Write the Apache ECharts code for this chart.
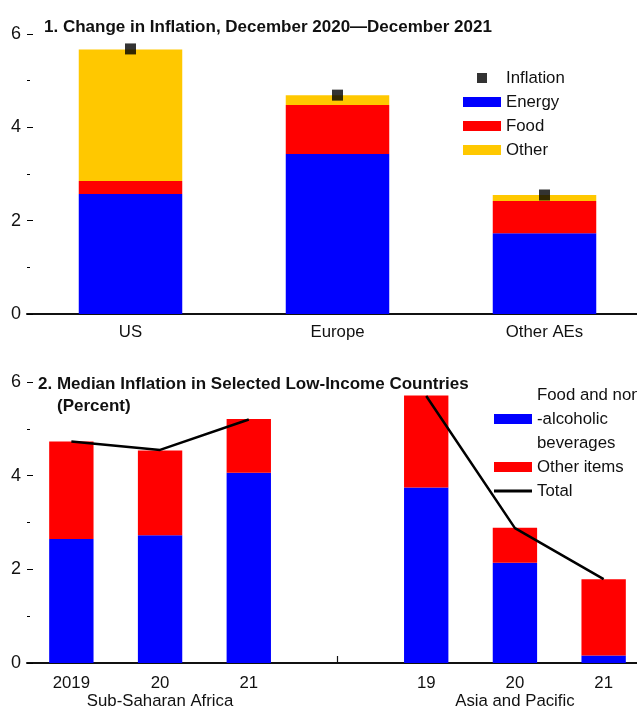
<!DOCTYPE html>
<html><head><meta charset="utf-8">
<script src="https://cdn.jsdelivr.net/npm/echarts@6/dist/echarts.min.js"></script>
<style>html,body{margin:0;padding:0;background:#fff}#c{width:637px;height:706px}</style>
</head><body><div id="c"></div>
<script>
// Panel 1 data
const cats1 = ['US', 'Europe', 'Other AEs'];
const energy = [2.57, 3.43, 1.73];
const food = [0.28, 1.05, 0.69];
const other = [2.82, 0.21, 0.13];
const inflation = [5.68, 4.69, 2.55];
// Panel 2 data
const cats2 = ['2019', '20', '21', '', '19', '20', '21'];
const regionLabels = ['', 'Sub-Saharan Africa', '', '', '', 'Asia and Pacific', ''];
const foodBev = [2.65, 2.73, 4.06, '-', 3.75, 2.14, 0.16];
const otherItems = [2.08, 1.81, 1.15, '-', 1.96, 0.75, 1.63];
const total = [4.73, 4.55, 5.20, '-', 5.70, 2.88, 1.79];
const yTicks = [0, 2, 4, 6];

const FONT = "'Liberation Sans Narrow', 'Arial Narrow', 'Liberation Sans', Arial, sans-serif";
const FS = 16.8;
const chart = echarts.init(document.getElementById('c'), null, {renderer: 'canvas'});

function yAxis(gi) {
  return {
    type: 'value', gridIndex: gi, min: yTicks[0], max: yTicks[yTicks.length - 1], interval: 2,
    axisLine: {show: false},
    axisTick: {show: true, inside: true, length: 6, lineStyle: {color: '#000', width: 1}},
    minorTick: {show: true, splitNumber: 2, length: 3, lineStyle: {color: '#000', width: 1}},
    splitLine: {show: false}, minorSplitLine: {show: false},
    axisLabel: {fontFamily: FONT, fontSize: 18, color: '#111', margin: 6}
  };
}
function xAxis(gi, data, margin, fmt) {
  return {
    type: 'category', gridIndex: gi, data: data,
    axisLine: {show: true, lineStyle: {color: '#111', width: 2}},
    axisTick: {show: true, inside: true, length: 7, alignWithLabel: true, lineStyle: {color: '#111', width: 1.2}},
    axisLabel: {fontFamily: FONT, fontSize: FS, color: '#111', margin: margin, interval: 0, lineHeight: 18, formatter: fmt},
    splitLine: {show: false}
  };
}
const titleStyle = {fontFamily: FONT, fontSize: 17, fontWeight: 'bold', color: '#111'};
const legendText = {fontFamily: FONT, fontSize: FS, color: '#111', lineHeight: 24};

chart.setOption({
  animation: false,
  backgroundColor: '#fff',
  title: [
    {text: '1. Change in Inflation, December 2020\u2014December 2021', left: 44, top: 19, padding: 0, textStyle: titleStyle},
    {text: '2. Median Inflation in Selected Low-Income Countries', left: 38, top: 376, padding: 0, textStyle: titleStyle},
    {text: '(Percent)', left: 57, top: 398, padding: 0, textStyle: titleStyle}
  ],
  legend: [
    {left: 463, top: 66, padding: 0, orient: 'vertical', itemGap: 0, itemWidth: 38, itemHeight: 10,
     data: [
       {name: 'Inflation', icon: 'path://M0,0M38,10M14,0L24,0L24,10L14,10Z'},
       {name: 'Energy', icon: 'rect'}, {name: 'Food', icon: 'rect'}, {name: 'Other', icon: 'rect'}
     ],
     textStyle: legendText},
    {left: 494, top: 383, padding: 0, orient: 'vertical', itemGap: 0, itemWidth: 38, itemHeight: 10,
     data: [
       {name: 'Food and non\n-alcoholic\nbeverages', icon: 'rect'}, {name: 'Other items', icon: 'rect'},
       {name: 'Total', icon: 'path://M0,0M38,10M0,3.5L38,3.5L38,6.5L0,6.5Z'}
     ],
     textStyle: legendText}
  ],
  grid: [
    {left: 27, top: 34, width: 621, height: 280, outerBoundsMode: 'none', containLabel: false},
    {left: 27, top: 382, width: 621, height: 281, outerBoundsMode: 'none', containLabel: false}
  ],
  xAxis: [
    xAxis(0, cats1, 9),
    xAxis(1, cats2, 11, function (v, i) { return regionLabels[i] ? v + '\n' + regionLabels[i] : v; })
  ],
  yAxis: [yAxis(0), yAxis(1)],
  series: [
    {name: 'Energy', type: 'bar', stack: 's1', xAxisIndex: 0, yAxisIndex: 0, barWidth: '50%', data: energy, itemStyle: {color: '#0000ff'}},
    {name: 'Food', type: 'bar', stack: 's1', xAxisIndex: 0, yAxisIndex: 0, barWidth: '50%', data: food, itemStyle: {color: '#ff0000'}},
    {name: 'Other', type: 'bar', stack: 's1', xAxisIndex: 0, yAxisIndex: 0, barWidth: '50%', data: other, itemStyle: {color: '#ffc800'}},
    {name: 'Inflation', type: 'scatter', xAxisIndex: 0, yAxisIndex: 0, data: inflation, symbol: 'rect', symbolSize: 11, itemStyle: {color: '#000'}, z: 5},
    {name: 'Food and non\n-alcoholic\nbeverages', type: 'bar', stack: 's2', xAxisIndex: 1, yAxisIndex: 1, barWidth: '50%', data: foodBev, itemStyle: {color: '#0000ff'}},
    {name: 'Other items', type: 'bar', stack: 's2', xAxisIndex: 1, yAxisIndex: 1, barWidth: '50%', data: otherItems, itemStyle: {color: '#ff0000'}},
    {name: 'Total', type: 'line', xAxisIndex: 1, yAxisIndex: 1, data: total, symbol: 'none', connectNulls: false, lineStyle: {color: '#000', width: 2.5}, itemStyle: {color: '#000'}, z: 5}
  ]
});
</script></body></html>
